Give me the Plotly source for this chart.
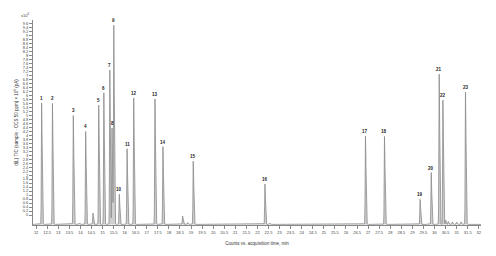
import numpy as np
import plotly.graph_objects as go

# ---- data ----
peak_labels = ["1", "2", "3", "4", "5", "6", "7", "8", "9", "10", "11", "12",
               "13", "14", "15", "16", "17", "18", "19", "20", "21", "22", "23"]
peak_times = [12.25, 12.74, 13.68, 14.24, 14.83, 15.06, 15.33, 15.43, 15.51, 15.76,
              16.11, 16.41, 17.37, 17.73, 19.10, 22.34, 26.88, 27.74, 29.35, 29.85,
              30.21, 30.38, 31.40]
peak_heights = [5.61, 5.61, 4.99, 4.20, 5.50, 6.13, 7.27, 4.36, 9.50, 1.04,
                3.32, 5.87, 5.82, 3.43, 2.70, 1.56, 3.95, 3.95, 0.78, 2.13,
                7.06, 5.77, 6.18]
minor_times = [13.95, 14.57, 18.62, 18.85, 22.55, 30.50, 30.62, 30.80, 31.00, 31.20]
minor_heights = [-0.40, 0.10, -0.05, -0.38, -0.40, -0.25, -0.32, -0.35, -0.36, -0.34]
baseline = -0.47

x_ticks = [12 + 0.5 * i for i in range(41)]
x_tick_text = [("%g" % v) for v in x_ticks]
y_ticks = [round(0.2 * i, 1) for i in range(49)]
y_tick_text = [("%g" % v) for v in y_ticks]

# ---- build the chromatogram from the peaks ----
t = np.arange(11.86, 32.10, 0.003)
signal = np.full_like(t, baseline)
for pt, ph in zip(peak_times + minor_times, peak_heights + minor_heights):
    amp = ph - baseline
    sl, sr = 0.013, 0.024
    s = np.where(t < pt, sl, sr)
    signal = signal + amp * np.exp(-0.5 * ((t - pt) / s) ** 2)

fig = go.Figure()
fig.add_trace(go.Scatter(x=t, y=np.full_like(t, baseline), mode="lines",
                         line=dict(width=0), hoverinfo="skip", showlegend=False))
fig.add_trace(go.Scatter(x=t, y=signal, mode="lines", fill="tonexty",
                         fillcolor="rgba(195,195,195,0.8)",
                         line=dict(color="#8a8a8a", width=0.8), showlegend=False))

for lab, pt, ph in zip(peak_labels, peak_times, peak_heights):
    fig.add_annotation(x=pt, y=ph, text="<b>%s</b>" % lab, showarrow=False,
                       yanchor="bottom", yshift=0,
                       font=dict(size=4.5, color="#222", family="Liberation Sans"))

fig.add_annotation(xref="paper", yref="paper", x=-0.005, y=1.0, xanchor="right",
                   yanchor="bottom", text="x10<sup>6</sup>", showarrow=False,
                   font=dict(size=4, color="#444", family="Liberation Sans"))

# page body has an 8px default margin; size the figure to fit the 496x256 window
fig.update_layout(
    width=488, height=248,
    margin=dict(l=25, r=15, t=12, b=31),
    paper_bgcolor="white", plot_bgcolor="white",
    font=dict(family="Liberation Sans", size=4, color="#444"),
    xaxis=dict(range=[11.86, 32.1], tickvals=x_ticks, ticktext=x_tick_text,
               automargin=False,
               showgrid=False, zeroline=False, showline=True, linecolor="#888",
               linewidth=1, ticks="outside", ticklen=3, tickcolor="#888",
               tickfont=dict(size=4, color="#444"),
               title=dict(text="Counts vs. acquisition time, min",
                          font=dict(size=4.5, color="#333"), standoff=8)),
    yaxis=dict(range=[-0.5, 9.77], tickvals=y_ticks, ticktext=y_tick_text,
               automargin=False,
               showgrid=False, zeroline=False, showline=True, linecolor="#888",
               linewidth=1, ticks="outside", ticklen=3, tickcolor="#888",
               tickfont=dict(size=4, color="#444"),
               title=dict(text="d(L) TIC (sample · CCS 50 ppm) × 10<sup>6</sup> (pA)",
                          font=dict(size=4.5, color="#333"), standoff=4)),
)

fig.write_html("out.html")
